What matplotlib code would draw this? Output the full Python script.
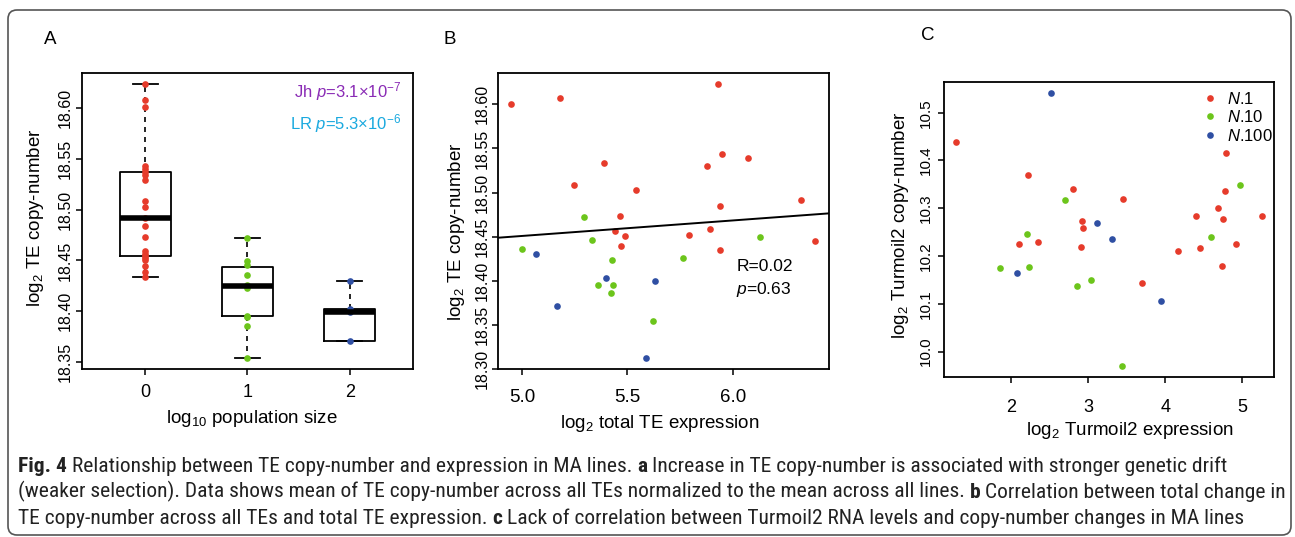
import matplotlib
matplotlib.use("Agg")
import matplotlib.pyplot as plt
import matplotlib.transforms as mtransforms
from matplotlib import font_manager
from matplotlib.patches import FancyBboxPatch

# ---- panel A: TE copy-number by log10 population size ----
A_POSITIONS = [0, 1, 2]
A_N1 = [18.6237, 18.6079, 18.6013, 18.5432, 18.5399, 18.5373, 18.5346, 18.5297,
        18.5087, 18.5028, 18.4923, 18.4844, 18.4729, 18.4594, 18.4568, 18.4545,
        18.4528, 18.4509, 18.4446, 18.4387, 18.4338]
A_N10 = [18.4718, 18.4495, 18.4457, 18.4359, 18.4260, 18.4230, 18.3954, 18.3946,
         18.3856, 18.3538]
A_N100 = [18.4302, 18.4026, 18.3996, 18.3708, 18.3122]
A_YTICKS = [18.35, 18.40, 18.45, 18.50, 18.55, 18.60]

# ---- panel B: total TE expression vs copy-number ----
B_N1_X = [4.946, 5.177, 5.931, 5.386, 5.244, 5.542, 5.876, 5.947, 6.072, 5.939,
          6.327, 5.466, 5.440, 5.486, 5.469, 5.793, 5.892, 5.942, 6.389]
B_N1_Y = [18.6008, 18.6076, 18.6231, 18.5334, 18.5089, 18.5028, 18.5297, 18.5433,
          18.5395, 18.4843, 18.4918, 18.4729, 18.4567, 18.4506, 18.4396, 18.4517,
          18.4589, 18.4347, 18.4449]
B_N10_X = [5.000, 5.293, 5.333, 5.426, 5.361, 5.432, 5.423, 5.619, 5.766, 6.129]
B_N10_Y = [18.4359, 18.4718, 18.4457, 18.4230, 18.3954, 18.3946, 18.3856, 18.3538,
           18.4260, 18.4495]
B_N100_X = [5.063, 5.166, 5.397, 5.632, 5.589]
B_N100_Y = [18.4302, 18.3708, 18.4026, 18.3996, 18.3122]
B_FIT = (18.3629, 0.01757)  # intercept, slope
B_XTICKS = [5.0, 5.5, 6.0]
B_YTICKS = [18.30, 18.35, 18.40, 18.45, 18.50, 18.55, 18.60]

# ---- panel C: Turmoil2 expression vs copy-number ----
C_N1_X = [1.291, 2.220, 2.108, 2.346, 2.804, 2.917, 2.934, 2.904, 3.448, 3.703,
          4.162, 4.400, 4.447, 4.681, 4.789, 4.771, 4.754, 4.741, 4.918, 5.256]
C_N1_Y = [10.438, 10.370, 10.225, 10.229, 10.340, 10.274, 10.258, 10.219, 10.320,
          10.143, 10.211, 10.283, 10.217, 10.300, 10.415, 10.337, 10.277, 10.179,
          10.226, 10.284]
C_N10_X = [1.857, 2.203, 2.233, 2.696, 2.852, 3.033, 3.440, 4.590, 4.974]
C_N10_Y = [10.175, 10.246, 10.176, 10.317, 10.138, 10.149, 9.969, 10.239, 10.348]
C_N100_X = [2.514, 2.082, 3.111, 3.310, 3.941]
C_N100_Y = [10.542, 10.165, 10.270, 10.236, 10.105]
C_XTICKS = [2, 3, 4, 5]
C_YTICKS = [10.0, 10.1, 10.2, 10.3, 10.4, 10.5]
C_LABELS = [r"$N$.1", r"$N$.10", r"$N$.100"]

RED = "#e63b2b"
GREEN = "#6cc51b"
BLUE = "#2f4fa3"
MS = 4.8

CAPTION = [
    [("Fig. 4", True), ("Relationship between TE copy-number and expression in MA lines.", False),
     ("a", True), ("Increase in TE copy-number is associated with stronger genetic drift", False)],
    [("(weaker selection). Data shows mean of TE copy-number across all TEs normalized to the "
      "mean across all lines.", False), ("b", True),
     ("Correlation between total change in", False)],
    [("TE copy-number across all TEs and total TE expression.", False), ("c", True),
     ("Lack of correlation between Turmoil2 RNA levels and copy-number changes in MA lines", False)],
]

plt.rcParams["font.family"] = ["Liberation Sans", "DejaVu Sans"]
plt.rcParams["mathtext.fontset"] = "custom"
plt.rcParams["mathtext.rm"] = "Liberation Sans"
plt.rcParams["mathtext.it"] = "Liberation Sans:italic"
plt.rcParams["mathtext.bf"] = "Liberation Sans:bold"


def pick_font(names):
    for name in names:
        try:
            font_manager.findfont(name, fallback_to_default=False)
            return name
        except Exception:
            continue
    return "DejaVu Sans"


def style_axes(ax, xticks, yticks, xfmt, yfmt, xsize, ysize, xpad, ypad):
    for sp in ax.spines.values():
        sp.set_linewidth(1.3)
    ax.set_xticks(xticks)
    ax.set_yticks(yticks)
    ax.set_xticklabels([xfmt % v for v in xticks], fontsize=xsize)
    ax.set_yticklabels([yfmt % v for v in yticks], fontsize=ysize, rotation=90, va="center")
    ax.tick_params(axis="both", direction="out", length=4.5, width=1.1)
    ax.tick_params(axis="x", pad=xpad)
    ax.tick_params(axis="y", pad=ypad)


fig = plt.figure(figsize=(12.95, 5.37), dpi=100)

# ---------------- panel A ----------------
axA = fig.add_axes([0.0633, 0.3128, 0.2556, 0.5518])
dash = (0, (3, 3))
axA.boxplot([A_N1, A_N10, A_N100], positions=A_POSITIONS, widths=0.5, capwidths=0.25,
            showfliers=False, whis=1.5,
            boxprops=dict(linewidth=1.3, color="black"),
            medianprops=dict(linewidth=4, color="black", solid_capstyle="butt"),
            whiskerprops=dict(linewidth=1.2, linestyle=dash, color="black"),
            capprops=dict(linewidth=1.3, color="black"))
for pos, vals, col in zip(A_POSITIONS, [A_N1, A_N10, A_N100], [RED, GREEN, BLUE]):
    axA.plot([pos] * len(vals), vals, "o", color=col, ms=MS, mec="none")
axA.set_xlim(-0.62, 2.62)
axA.set_ylim(18.343, 18.635)
style_axes(axA, A_POSITIONS, A_YTICKS, "%d", "%.2f", 13, 11.5, 6, 2)
axA.set_ylabel(r"log$_2$ TE copy-number", fontsize=13.5)
axA.yaxis.set_label_coords(-0.11, 0.51)
axA.set_xlabel(r"log$_{10}$ population size", fontsize=13.5)
axA.xaxis.set_label_coords(0.513, -0.13)
axA.text(0.965, 0.935, r"Jh $p$=3.1×10$^{-7}$", transform=axA.transAxes, ha="right",
         va="center", fontsize=12, color="#8a2bb5")
axA.text(0.965, 0.83, r"LR $p$=5.3×10$^{-6}$", transform=axA.transAxes, ha="right",
         va="center", fontsize=12, color="#1aa9df")

# ---------------- panel B ----------------
axB = fig.add_axes([0.3848, 0.3128, 0.2554, 0.5518])
axB.plot(B_N1_X, B_N1_Y, "o", color=RED, ms=MS, mec="none")
axB.plot(B_N10_X, B_N10_Y, "o", color=GREEN, ms=MS, mec="none")
axB.plot(B_N100_X, B_N100_Y, "o", color=BLUE, ms=MS, mec="none")
axB.set_xlim(4.886, 6.458)
axB.set_ylim(18.2997, 18.636)
axB.axline((0, B_FIT[0]), slope=B_FIT[1], color="black", lw=1.4)
style_axes(axB, B_XTICKS, B_YTICKS, "%.1f", "%.2f", 13.5, 11.5, 10, 2)
axB.set_ylabel(r"log$_2$ TE copy-number", fontsize=13.5)
axB.yaxis.set_label_coords(-0.095, 0.462)
axB.set_xlabel(r"log$_2$ total TE expression", fontsize=13.5)
axB.xaxis.set_label_coords(0.489, -0.15)
axB.text(0.72, 0.345, "R=0.02", transform=axB.transAxes, ha="left", va="center", fontsize=12.5)
axB.text(0.72, 0.268, r"$p$=0.63", transform=axB.transAxes, ha="left", va="center", fontsize=12.5)

# ---------------- panel C ----------------
axC = fig.add_axes([0.7292, 0.2974, 0.2548, 0.5505])
hN1, = axC.plot(C_N1_X, C_N1_Y, "o", color=RED, ms=MS, mec="none")
hN10, = axC.plot(C_N10_X, C_N10_Y, "o", color=GREEN, ms=MS, mec="none")
hN100, = axC.plot(C_N100_X, C_N100_Y, "o", color=BLUE, ms=MS, mec="none")
axC.set_xlim(1.135, 5.416)
axC.set_ylim(9.946, 10.565)
style_axes(axC, C_XTICKS, C_YTICKS, "%d", "%.1f", 13, 11, 11, 4)
axC.set_ylabel(r"log$_2$ Turmoil2 copy-number", fontsize=13.5)
axC.yaxis.set_label_coords(-0.10, 0.515)
axC.set_xlabel(r"log$_2$ Turmoil2 expression", fontsize=13.5)
axC.xaxis.set_label_coords(0.563, -0.145)
axC.legend([hN1, hN10, hN100], C_LABELS, loc="upper right", bbox_to_anchor=(1.0, 0.975),
           frameon=False, fontsize=12, handlelength=0.8, handletextpad=0.6,
           labelspacing=0.15, borderpad=0, borderaxespad=0.1)

# panel letters
fig.text(50 / 1295, 1 - 40 / 537, "A", fontsize=13.5, ha="center", va="center")
fig.text(450 / 1295, 1 - 40 / 537, "B", fontsize=13.5, ha="center", va="center")
fig.text(928 / 1295, 1 - 35 / 537, "C", fontsize=13.5, ha="center", va="center")

# outer rounded frame
frame = FancyBboxPatch((8, 2), 1283, 525, boxstyle="round,pad=0,rounding_size=9",
                       transform=mtransforms.IdentityTransform(), fill=False,
                       edgecolor="#555555", lw=1.2)
fig.patches.append(frame)

# caption with bold markers
cap_font = pick_font(["Liberation Sans Narrow", "Roboto Condensed", "Liberation Sans"])
renderer = fig.canvas.get_renderer()
ident = mtransforms.IdentityTransform()


def text_width(s, size, bold):
    t = fig.text(0, 0, s, fontsize=size, family=cap_font,
                 fontweight="bold" if bold else "normal", transform=ident)
    w = t.get_window_extent(renderer=renderer).width
    t.remove()
    return w


def line_width(parts, size):
    space = text_width("x x", size, False) - text_width("xx", size, False)
    return sum(text_width(s, size, b) for s, b in parts) + space * (len(parts) - 1)


size = 10.0
size = size * 1262 / line_width(CAPTION[1], size)
space = text_width("x x", size, False) - text_width("xx", size, False)
for parts, base in zip(CAPTION, [65, 39.5, 13]):
    x = 18
    for s, b in parts:
        fig.text(x, base, s, fontsize=size, family=cap_font, color="#222222",
                 fontweight="bold" if b else "normal", transform=ident, va="baseline")
        x += text_width(s, size, b) + space

fig.savefig("out.png", dpi=100)
